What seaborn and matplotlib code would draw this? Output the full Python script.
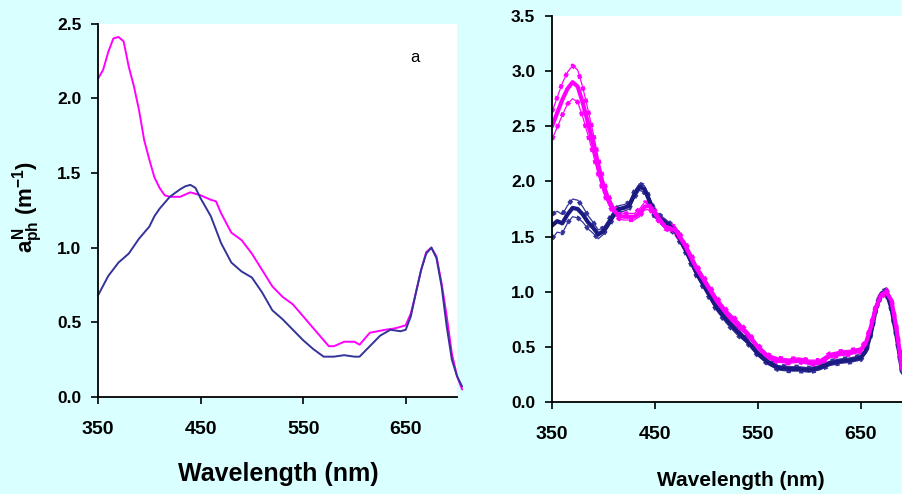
import matplotlib
matplotlib.use("Agg")
import matplotlib.pyplot as plt
import seaborn as sns
import pandas as pd

# ---------------- data ----------------
# Panel a (left)
wl_a_mag = [350, 355, 360, 365, 370, 375, 380, 385, 390, 395, 400, 405, 410, 415, 420, 430,
            440, 450, 460, 465, 470, 480, 490, 500, 510, 520, 530, 540, 550, 560, 570, 575,
            580, 590, 600, 605, 615, 630, 640, 650, 655, 660, 665, 670, 675, 680, 685, 690,
            695, 700, 705]
a_mag = [2.13, 2.19, 2.31, 2.40, 2.41, 2.38, 2.21, 2.08, 1.92, 1.72, 1.59, 1.47, 1.40, 1.35,
         1.34, 1.34, 1.37, 1.35, 1.32, 1.31, 1.23, 1.10, 1.05, 0.96, 0.85, 0.74, 0.67, 0.62,
         0.54, 0.46, 0.38, 0.34, 0.34, 0.37, 0.37, 0.35, 0.43, 0.45, 0.46, 0.48, 0.56, 0.70,
         0.85, 0.97, 1.00, 0.94, 0.76, 0.54, 0.29, 0.14, 0.05]
wl_a_blu = [350, 360, 370, 380, 390, 400, 405, 410, 420, 430, 435, 440, 445, 450, 460, 470,
            480, 490, 500, 510, 520, 530, 540, 550, 560, 570, 580, 590, 600, 605, 615, 625,
            635, 645, 650, 655, 660, 665, 670, 675, 680, 685, 690, 695, 700, 705]
a_blu = [0.68, 0.81, 0.90, 0.96, 1.06, 1.14, 1.21, 1.26, 1.34, 1.39, 1.41, 1.42, 1.40, 1.33,
         1.21, 1.03, 0.90, 0.84, 0.80, 0.70, 0.58, 0.52, 0.45, 0.38, 0.32, 0.27, 0.27, 0.28,
         0.27, 0.27, 0.34, 0.41, 0.45, 0.44, 0.45, 0.54, 0.70, 0.85, 0.96, 1.00, 0.93, 0.74,
         0.47, 0.25, 0.14, 0.07]

# Panel b (right)
wl_b = [350, 355, 360, 365, 370, 375, 380, 385, 390, 395, 400, 405, 410, 415, 420, 425, 430,
        435, 440, 445, 450, 460, 470, 480, 490, 500, 510, 520, 530, 540, 550, 560, 570, 580,
        590, 600, 610, 620, 630, 640, 650, 655, 660, 665, 670, 675, 680, 685, 690, 695, 700]
b_mag = [2.50, 2.62, 2.74, 2.84, 2.90, 2.86, 2.71, 2.53, 2.34, 2.13, 1.95, 1.83, 1.74, 1.69,
         1.68, 1.68, 1.68, 1.71, 1.77, 1.78, 1.71, 1.59, 1.56, 1.41, 1.22, 1.07, 0.92, 0.80,
         0.71, 0.62, 0.50, 0.41, 0.38, 0.37, 0.38, 0.36, 0.36, 0.42, 0.44, 0.45, 0.47, 0.53,
         0.68, 0.86, 0.97, 1.00, 0.92, 0.66, 0.32, 0.16, 0.08]
b_mag_hi = [2.63, 2.76, 2.89, 2.99, 3.05, 3.01, 2.85, 2.65, 2.44, 2.21, 2.01, 1.87, 1.77, 1.72,
            1.71, 1.71, 1.71, 1.75, 1.81, 1.81, 1.74, 1.62, 1.59, 1.44, 1.25, 1.10, 0.95, 0.83,
            0.74, 0.64, 0.52, 0.43, 0.40, 0.39, 0.40, 0.38, 0.38, 0.44, 0.46, 0.47, 0.49, 0.55,
            0.70, 0.88, 0.99, 1.02, 0.94, 0.68, 0.34, 0.17, 0.09]
b_mag_lo = [2.38, 2.49, 2.60, 2.70, 2.75, 2.72, 2.58, 2.42, 2.25, 2.06, 1.90, 1.79, 1.71, 1.66,
            1.65, 1.65, 1.65, 1.68, 1.74, 1.75, 1.68, 1.57, 1.53, 1.38, 1.19, 1.04, 0.89, 0.77,
            0.68, 0.60, 0.48, 0.39, 0.36, 0.35, 0.36, 0.34, 0.34, 0.40, 0.42, 0.43, 0.45, 0.51,
            0.66, 0.84, 0.95, 0.98, 0.90, 0.64, 0.30, 0.15, 0.07]
b_blu = [1.60, 1.64, 1.62, 1.70, 1.76, 1.75, 1.70, 1.63, 1.58, 1.52, 1.55, 1.62, 1.70, 1.75,
         1.76, 1.78, 1.88, 1.95, 1.93, 1.82, 1.70, 1.63, 1.55, 1.38, 1.18, 1.02, 0.86, 0.74,
         0.64, 0.55, 0.44, 0.36, 0.31, 0.30, 0.30, 0.29, 0.31, 0.35, 0.37, 0.38, 0.40, 0.46,
         0.62, 0.85, 0.98, 1.00, 0.85, 0.60, 0.30, 0.15, 0.08]
b_blu_hi = [1.70, 1.73, 1.70, 1.78, 1.84, 1.83, 1.77, 1.69, 1.63, 1.56, 1.58, 1.65, 1.73, 1.78,
            1.79, 1.81, 1.91, 1.98, 1.96, 1.85, 1.73, 1.66, 1.58, 1.41, 1.21, 1.05, 0.89, 0.77,
            0.67, 0.57, 0.46, 0.38, 0.33, 0.32, 0.32, 0.31, 0.33, 0.37, 0.39, 0.40, 0.42, 0.48,
            0.64, 0.87, 1.00, 1.02, 0.87, 0.62, 0.32, 0.16, 0.09]
b_blu_lo = [1.48, 1.54, 1.53, 1.62, 1.68, 1.67, 1.63, 1.57, 1.53, 1.48, 1.52, 1.59, 1.67, 1.72,
            1.73, 1.75, 1.85, 1.92, 1.90, 1.79, 1.67, 1.60, 1.52, 1.35, 1.15, 0.99, 0.83, 0.71,
            0.61, 0.53, 0.42, 0.34, 0.29, 0.28, 0.28, 0.27, 0.29, 0.33, 0.35, 0.36, 0.38, 0.44,
            0.60, 0.83, 0.96, 0.98, 0.83, 0.58, 0.28, 0.14, 0.07]

x_ticks = [350, 450, 550, 650]
y_ticks_a = [0.0, 0.5, 1.0, 1.5, 2.0, 2.5]
y_ticks_b = [0.0, 0.5, 1.0, 1.5, 2.0, 2.5, 3.0, 3.5]

MAG = "#FF00FF"
BLU = "#333399"
NAVY = "#1A1A80"
BG = "#D9FFFF"

# ---------------- style ----------------
sns.set_style("ticks")
plt.rcParams["font.family"] = ["Liberation Sans", "DejaVu Sans"]
plt.rcParams["mathtext.fontset"] = "custom"
plt.rcParams["mathtext.rm"] = "Liberation Sans:bold"
plt.rcParams["mathtext.it"] = "Liberation Sans:bold"
plt.rcParams["mathtext.bf"] = "Liberation Sans:bold"
plt.rcParams["text.color"] = "black"

fig = plt.figure(figsize=(9.02, 4.94), dpi=100, facecolor=BG)
W, H = 902, 494
ax1 = fig.add_axes([98 / W, 1 - 397 / H, (457 - 98) / W, (397 - 23.5) / H])
ax2 = fig.add_axes([552 / W, 1 - 402 / H, 360 / W, (402 - 16) / H])


def style_axes(ax, yticks, ymax, ysize):
    ax.set_facecolor("white")
    ax.set_xlim(350, 700)
    ax.set_ylim(0, ymax)
    ax.set_xticks(x_ticks)
    ax.set_yticks(yticks)
    ax.set_xticklabels([str(t) for t in x_ticks])
    ax.set_yticklabels([f"{t:.1f}" for t in yticks])
    for s in ["top", "right"]:
        ax.spines[s].set_visible(False)
    for s in ["left", "bottom"]:
        ax.spines[s].set_color("black")
        ax.spines[s].set_linewidth(1.3)
    ax.tick_params(axis="both", direction="out", length=5, width=1.2, colors="black")
    ax.tick_params(axis="x", labelsize=14, pad=12)
    ax.tick_params(axis="y", labelsize=ysize, pad=7)
    for lab in ax.get_xticklabels() + ax.get_yticklabels():
        lab.set_fontweight("bold")
        lab.set_color("black")
    ax.set_xlabel("")
    ax.set_ylabel("")


# Panel a
df_am = pd.DataFrame({"wl": wl_a_mag, "v": a_mag})
df_ab = pd.DataFrame({"wl": wl_a_blu, "v": a_blu})
sns.lineplot(data=df_am, x="wl", y="v", ax=ax1, color=MAG, linewidth=1.4)
sns.lineplot(data=df_ab, x="wl", y="v", ax=ax1, color=BLU, linewidth=1.4)
for ln in ax1.lines:
    ln.set_clip_on(False)
style_axes(ax1, y_ticks_a, 2.5, 12.5)
ax1.text(659, 2.27, "a", fontsize=12, ha="center", va="center", color="black")

# Panel b
df_b = pd.DataFrame({"wl": wl_b, "m": b_mag, "mh": b_mag_hi, "ml": b_mag_lo,
                     "b": b_blu, "bh": b_blu_hi, "bl": b_blu_lo})
for col, colr in [("bh", BLU), ("bl", BLU), ("mh", MAG), ("ml", MAG)]:
    sns.lineplot(data=df_b, x="wl", y=col, ax=ax2, color=colr, linewidth=0.9)
    sns.lineplot(data=df_b, x="wl", y=col, ax=ax2, color=colr, linewidth=3.0,
                 linestyle=(0, (1, 2.0)))
sns.lineplot(data=df_b, x="wl", y="b", ax=ax2, color=NAVY, linewidth=3.0)
sns.lineplot(data=df_b, x="wl", y="m", ax=ax2, color=MAG, linewidth=3.0)
style_axes(ax2, y_ticks_b, 3.5, 12.5)

# labels
fig.text(28 / W, 1 - 207 / H, r"$a_{ph}^{N}$ (m$^{-1}$)", rotation=90, ha="center",
         va="center", fontsize=16, fontweight="bold", color="black")
fig.text(278 / W, 1 - 474 / H, "Wavelength (nm)", ha="center", va="center",
         fontsize=18, fontweight="bold", color="black")
fig.text(741 / W, 1 - 480 / H, "Wavelength (nm)", ha="center", va="center",
         fontsize=15, fontweight="bold", color="black")

fig.savefig("out.png", dpi=100, facecolor=BG)
